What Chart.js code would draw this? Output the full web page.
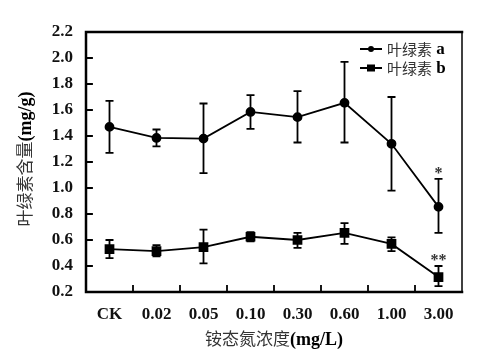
<!DOCTYPE html>
<html>
<head>
<meta charset="utf-8">
<script src="https://cdn.jsdelivr.net/npm/chart.js@4"></script>
<style>
html,body{margin:0;padding:0;background:#fff;}
#wrap{width:481px;height:357px;}
</style>
</head>
<body>
<div id="wrap"><canvas id="c" width="481" height="357"></canvas></div>
<script>
const categories = ['CK','0.02','0.05','0.10','0.30','0.60','1.00','3.00'];
const seriesNames = ['叶绿素 a','叶绿素 b'];
const chlA = [1.47, 1.385, 1.38, 1.585, 1.545, 1.655, 1.34, 0.855];
const chlAUpper = [1.67, 1.45, 1.65, 1.715, 1.745, 1.97, 1.70, 1.07];
const chlALower = [1.27, 1.32, 1.115, 1.455, 1.35, 1.35, 0.98, 0.655];
const chlB = [0.53, 0.515, 0.545, 0.625, 0.60, 0.655, 0.57, 0.315];
const chlBUpper = [0.60, 0.56, 0.68, 0.66, 0.655, 0.73, 0.62, 0.40];
const chlBLower = [0.46, 0.475, 0.42, 0.59, 0.54, 0.57, 0.515, 0.245];
const yTicks = [0.2,0.4,0.6,0.8,1.0,1.2,1.4,1.6,1.8,2.0,2.2];
const marksA = ['','','','','','','','*'];
const marksB = ['','','','','','','','**'];
const xTitle = [['铵态氮浓度', 'cjk'], ['(mg/L)', 'latin']];
const yTitle = [['叶绿素含量', 'cjk'], ['(mg/g)', 'latin']];

const SERIF = '"Liberation Serif", "Times New Roman", serif';
const CJK = '"Noto Sans CJK SC", sans-serif';

function drawMixed(ctx, parts, cx, cy, rot, cjkSize, latSize) {
  ctx.save();
  ctx.translate(cx, cy);
  ctx.rotate(rot);
  ctx.textBaseline = 'middle';
  ctx.textAlign = 'left';
  const fonts = parts.map(p => p[1] === 'cjk' ? cjkSize + 'px ' + CJK : 'bold ' + latSize + 'px ' + SERIF);
  let total = 0;
  const widths = parts.map((p, i) => { ctx.font = fonts[i]; const w = ctx.measureText(p[0]).width; total += w; return w; });
  let x = -total / 2;
  parts.forEach((p, i) => {
    ctx.font = fonts[i];
    ctx.fillStyle = p[1] === 'cjk' ? '#333' : '#000';
    ctx.fillText(p[0], x, p[1] === 'cjk' ? 0 : 1);
    x += widths[i];
  });
  ctx.restore();
}

const errorBars = {
  id: 'errorBars',
  afterDatasetsDraw(chart) {
    const ctx = chart.ctx;
    const y = chart.scales.y;
    const sets = [[chlAUpper, chlALower, marksA, 0], [chlBUpper, chlBLower, marksB, 1]];
    ctx.save();
    sets.forEach(([up, lo, marks, di]) => {
      const meta = chart.getDatasetMeta(di);
      meta.data.forEach((pt, i) => {
        const x = pt.x;
        const yu = y.getPixelForValue(up[i]);
        const yl = y.getPixelForValue(lo[i]);
        ctx.strokeStyle = '#000';
        ctx.lineWidth = 1.8;
        ctx.beginPath();
        ctx.moveTo(x, yu); ctx.lineTo(x, yl);
        ctx.moveTo(x - 4, yu); ctx.lineTo(x + 4, yu);
        ctx.moveTo(x - 4, yl); ctx.lineTo(x + 4, yl);
        ctx.stroke();
        if (marks[i]) {
          ctx.fillStyle = '#333';
          ctx.font = 'bold 16px ' + SERIF;
          ctx.textAlign = 'center';
          ctx.textBaseline = 'middle';
          ctx.fillText(marks[i], x, yu - 5);
        }
      });
    });
    ctx.restore();
  }
};

const frame = {
  id: 'frame',
  afterDraw(chart) {
    const ctx = chart.ctx;
    const a = chart.chartArea;
    const xs = chart.scales.x, ys = chart.scales.y;
    ctx.save();
    ctx.strokeStyle = '#000';
    ctx.lineCap = 'square';
    ctx.lineWidth = 1.8;
    ctx.beginPath();
    yTicks.forEach(v => {
      const py = ys.getPixelForValue(v);
      ctx.moveTo(a.left, py); ctx.lineTo(a.left + 6, py);
    });
    for (let i = 1; i < categories.length; i++) {
      const px = (xs.getPixelForValue(i - 1) + xs.getPixelForValue(i)) / 2;
      ctx.moveTo(px, a.bottom); ctx.lineTo(px, a.bottom - 6);
    }
    ctx.stroke();
    ctx.lineWidth = 2.5;
    ctx.beginPath();
    ctx.moveTo(a.right, a.top); ctx.lineTo(a.left, a.top); ctx.lineTo(a.left, a.bottom); ctx.lineTo(a.right, a.bottom);
    ctx.stroke();
    ctx.lineWidth = 1.5;
    ctx.beginPath();
    ctx.moveTo(a.right, a.top); ctx.lineTo(a.right, a.bottom);
    ctx.stroke();
    // legend
    const items = [[seriesNames[0], 'circle', 49], [seriesNames[1], 'rect', 68]];
    items.forEach(([label, style, ly]) => {
      ctx.lineWidth = 2;
      ctx.beginPath();
      ctx.moveTo(361, ly); ctx.lineTo(381, ly);
      ctx.stroke();
      ctx.fillStyle = '#000';
      if (style === 'circle') {
        ctx.beginPath(); ctx.arc(371, ly, 3, 0, Math.PI * 2); ctx.fill();
      } else {
        ctx.fillRect(367, ly - 3.5, 8, 7);
      }
      const parts = label.split(' ');
      ctx.textAlign = 'left';
      ctx.textBaseline = 'middle';
      ctx.fillStyle = '#333';
      ctx.font = '15px ' + CJK;
      ctx.fillText(parts[0], 387, ly);
      const w = ctx.measureText(parts[0] + ' ').width;
      ctx.fillStyle = '#000';
      ctx.font = 'bold 17px ' + SERIF;
      ctx.fillText(parts[1], 387 + w + 1, ly + 1);
    });
    // axis titles
    drawMixed(ctx, xTitle, (a.left + a.right) / 2, 339, 0, 17, 18);
    drawMixed(ctx, yTitle, 25, (a.top + a.bottom) / 2 - 3, -Math.PI / 2, 17, 18);
    ctx.restore();
  }
};

new Chart(document.getElementById('c'), {
  type: 'line',
  data: {
    labels: categories,
    datasets: [
      { label: seriesNames[0], data: chlA, borderColor: '#000', backgroundColor: '#000', borderWidth: 1.8,
        pointStyle: 'circle', pointRadius: 4, pointHoverRadius: 4, tension: 0 },
      { label: seriesNames[1], data: chlB, borderColor: '#000', backgroundColor: '#000', borderWidth: 1.8,
        pointStyle: 'rect', pointRadius: 5.6, pointHoverRadius: 5.6, tension: 0 }
    ]
  },
  options: {
    responsive: false,
    animation: false,
    devicePixelRatio: 1,
    layout: { padding: { top: 32, right: 19, left: 0, bottom: 0 } },
    plugins: { legend: { display: false }, tooltip: { enabled: false } },
    scales: {
      x: {
        offset: true,
        grid: { display: false, drawTicks: false },
        border: { display: false },
        ticks: { color: '#111', padding: 12, font: { family: SERIF, size: 17, weight: 'bold' }, maxRotation: 0 },
        afterFit(s) { s.height = 65; }
      },
      y: {
        min: 0.2, max: 2.2,
        grid: { display: false, drawTicks: false },
        border: { display: false },
        afterBuildTicks(s) { s.ticks = yTicks.map(v => ({ value: v })); },
        ticks: { color: '#111', padding: 13, font: { family: SERIF, size: 17, weight: 'bold' },
          callback: v => Number(v).toFixed(1) },
        afterFit(s) { s.width = 86; }
      }
    }
  },
  plugins: [errorBars, frame]
});
</script>
</body>
</html>
